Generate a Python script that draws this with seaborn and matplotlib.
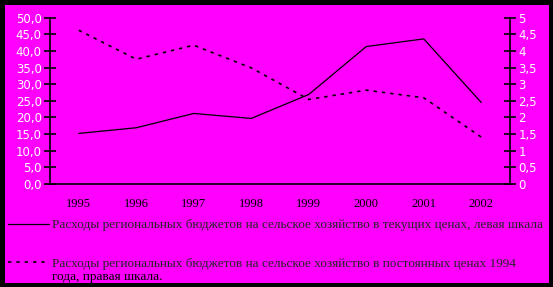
import matplotlib
matplotlib.use("Agg")
import matplotlib.pyplot as plt
import matplotlib.patches as mpatches
from matplotlib.ticker import FixedLocator, FuncFormatter
import seaborn as sns
import pandas as pd

years = ["1995", "1996", "1997", "1998", "1999", "2000", "2001", "2002"]
current_prices = [15.2, 16.9, 21.2, 19.7, 26.9, 41.3, 43.6, 24.5]
constant_prices = [4.62, 3.75, 4.17, 3.49, 2.54, 2.82, 2.59, 1.41]
label_current = "Расходы региональных бюджетов на сельское хозяйство в текущих ценах, левая шкала"
label_constant = "Расходы региональных бюджетов на сельское хозяйство в постоянных ценах 1994"
label_constant_cont = "года, правая шкала."

df = pd.DataFrame({"year": years, "cur": current_prices, "const": constant_prices})

sns.set_style("white")
plt.rcParams["font.family"] = ["Liberation Serif", "DejaVu Serif"]

MAG = "#FF00FF"
fig = plt.figure(figsize=(5.53, 2.87), dpi=100)
fig.patch.set_facecolor("black")
fig.patches.append(mpatches.Rectangle((5/553, 4/287), 544/553, 278/287,
                                      transform=fig.transFigure, facecolor=MAG,
                                      edgecolor="none", zorder=-5))

ax = fig.add_axes([50/553, 1 - 184/287, 460/553, 166.4/287])
ax.set_facecolor("none")
sns.lineplot(data=df, x="year", y="cur", ax=ax, color="black", lw=0.9,
             label=label_current, sort=False)
ax2 = ax.twinx()
ax2.set_facecolor("none")
sns.lineplot(data=df, x="year", y="const", ax=ax2, color="black", lw=1.2,
             linestyle=(0, (2, 3)), label=label_constant, sort=False)

ax.set_xlim(-0.5, 7.5)
ax.set_ylim(0, 50)
ax2.set_ylim(0, 5)
ax.set_xlabel("")
ax.set_ylabel("")
ax2.set_ylabel("")

for a in (ax, ax2):
    for s in a.spines.values():
        s.set_color("black")
        s.set_linewidth(1.2)
    a.spines["top"].set_visible(False)
ax.spines["right"].set_visible(False)
ax2.spines["left"].set_visible(False)
ax2.spines["bottom"].set_visible(False)

ax.set_yticks([i * 5 for i in range(11)])
ax.yaxis.set_major_formatter(FuncFormatter(lambda v, p: f"{v:.1f}".replace(".", ",")))
ax2.set_yticks([i * 0.5 for i in range(11)])
ax2.yaxis.set_major_formatter(FuncFormatter(lambda v, p: (f"{v:g}").replace(".", ",")))

ax.tick_params(axis="y", direction="inout", length=8, width=1.2, color="black",
               labelsize=8.5, labelcolor="white", pad=2)
ax2.tick_params(axis="y", direction="inout", length=8, width=1.2, color="black",
                labelsize=8.5, labelcolor="white", pad=2)
for t in ax.get_yticklabels() + ax2.get_yticklabels():
    t.set_family(["DejaVu Sans"])

ax.set_xticks(range(len(years)))
ax.set_xticklabels(years)
ax.xaxis.set_minor_locator(FixedLocator([i - 0.5 for i in range(len(years) + 1)]))
ax.tick_params(axis="x", which="major", length=0, labelsize=9, labelcolor="black", pad=10)
ax.tick_params(axis="x", which="minor", direction="inout", length=8, width=1.2, color="black")

h1, l1 = ax.get_legend_handles_labels()
h2, l2 = ax2.get_legend_handles_labels()
for a in (ax, ax2):
    if a.get_legend():
        a.get_legend().remove()
fig.legend(h1 + h2, l1 + l2, loc="upper left", bbox_to_anchor=(8/553, 1 - 219/287),
           frameon=False, fontsize=9.5, handlelength=3.1, handletextpad=0.2,
           labelspacing=2.0, borderaxespad=0, borderpad=0)
fig.text(52/553, 1 - 277/287, label_constant_cont, fontsize=9.5, va="center", ha="left",
         color="black")

fig.savefig("out.png", dpi=100, facecolor=fig.get_facecolor())
